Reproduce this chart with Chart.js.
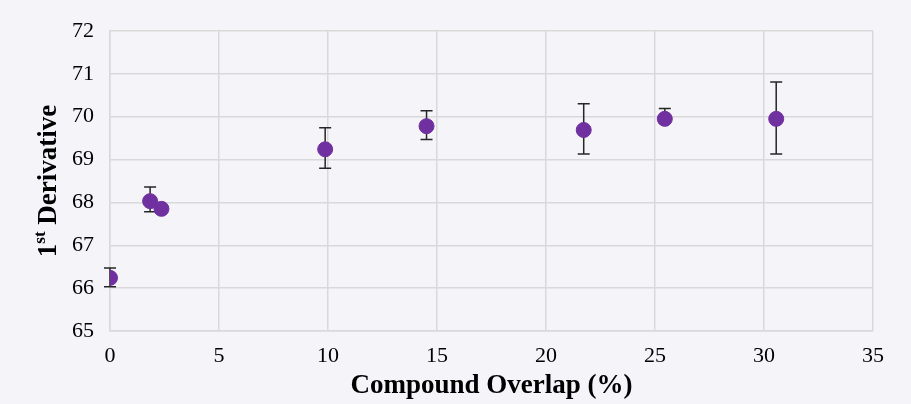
<!DOCTYPE html>
<html>
<head>
<meta charset="utf-8">
<script src="https://cdn.jsdelivr.net/npm/chart.js@4"></script>
<style>
  body { margin: 0; background: #f5f4f9; }
  #wrap { width: 911px; height: 404px; }
</style>
</head>
<body>
<div id="wrap"><canvas id="derivChart" width="911" height="404"></canvas></div>
<script>
// values
var overlap = [0, 1.84, 2.36, 9.87, 14.52, 21.73, 25.45, 30.56];
var derivative = [66.24, 68.03, 67.85, 69.24, 69.78, 69.69, 69.95, 69.95];
var errHigh = [66.47, 68.36, null, 69.74, 70.14, 70.30, 70.19, 70.81];
var errLow = [66.03, 67.78, null, 68.80, 69.47, 69.13, 69.85, 69.13];
var xTicks = [0, 5, 10, 15, 20, 25, 30, 35];
var yTicks = [65, 66, 67, 68, 69, 70, 71, 72];

var points = overlap.map(function(x, i) {
    return { x: x, y: derivative[i] };
});

var serif = "'Liberation Serif', 'Times New Roman', serif";

// error bars, drawn under the markers
var errorBars = {
    id: 'errorBars',
    beforeDatasetsDraw: function(chart) {
        var ctx = chart.ctx;
        var xs = chart.scales.x, ys = chart.scales.y;
        ctx.save();
        ctx.strokeStyle = '#262626';
        ctx.lineWidth = 1.5;
        for (var i = 0; i < overlap.length; i++) {
            if (errHigh[i] == null) continue;
            var px = xs.getPixelForValue(overlap[i]);
            var top = ys.getPixelForValue(errHigh[i]);
            var bot = ys.getPixelForValue(errLow[i]);
            ctx.beginPath();
            ctx.moveTo(px, top); ctx.lineTo(px, bot);
            ctx.moveTo(px - 6, top); ctx.lineTo(px + 6, top);
            ctx.moveTo(px - 6, bot); ctx.lineTo(px + 6, bot);
            ctx.stroke();
        }
        ctx.restore();
    }
};

// axis titles (y one needs a superscript)
var axisTitles = {
    id: 'axisTitles',
    afterDraw: function(chart) {
        var ctx = chart.ctx;
        var area = chart.chartArea;
        ctx.save();
        ctx.fillStyle = '#000';
        ctx.textBaseline = 'middle';
        ctx.textAlign = 'center';
        ctx.font = 'bold 27px ' + serif;
        ctx.fillText('Compound Overlap (%)', (area.left + area.right) / 2, 386);

        ctx.translate(49, (area.top + area.bottom) / 2);
        ctx.rotate(-Math.PI / 2);
        var big = 'bold 27px ' + serif, small = 'bold 17px ' + serif;
        ctx.font = big; var w1 = ctx.measureText('1').width;
        var w3 = ctx.measureText(' Derivative').width;
        ctx.font = small; var w2 = ctx.measureText('st').width;
        var x = -(w1 + w2 + w3) / 2;
        ctx.textAlign = 'left';
        ctx.font = big; ctx.fillText('1', x, 0);
        ctx.font = small; ctx.fillText('st', x + w1, -8);
        ctx.font = big; ctx.fillText(' Derivative', x + w1 + w2, 0);
        ctx.restore();
    }
};

var config = {
    type: 'scatter',
    data: {
        datasets: [{
            data: points,
            backgroundColor: '#7030a0',
            borderColor: '#7030a0',
            pointRadius: 7.5,
            pointHoverRadius: 7.5
        }]
    },
    options: {
        responsive: false,
        animation: false,
        layout: { padding: { top: 31, right: 38, left: 0, bottom: 0 } },
        plugins: { legend: { display: false }, tooltip: { enabled: false } },
        scales: {
            x: {
                type: 'linear',
                min: 0, max: 35,
                afterBuildTicks: function(s) { s.ticks = xTicks.map(function(v) { return { value: v }; }); },
                afterFit: function(s) { s.height = 73; },
                grid: { color: '#d9d9d9', lineWidth: 1.5, drawTicks: false },
                border: { color: '#d9d9d9', width: 1.5 },
                ticks: { color: '#000', padding: 12, maxRotation: 0, font: { family: serif, size: 22 } }
            },
            y: {
                min: 65, max: 72,
                afterBuildTicks: function(s) { s.ticks = yTicks.map(function(v) { return { value: v }; }); },
                afterFit: function(s) { s.width = 110; },
                grid: { color: '#d9d9d9', lineWidth: 1.5, drawTicks: false },
                border: { color: '#d9d9d9', width: 1.5 },
                ticks: { color: '#000', padding: 16, font: { family: serif, size: 22 } }
            }
        }
    },
    plugins: [errorBars, axisTitles]
};

var myChart = new Chart(document.getElementById('derivChart'), config);
</script>
</body>
</html>
